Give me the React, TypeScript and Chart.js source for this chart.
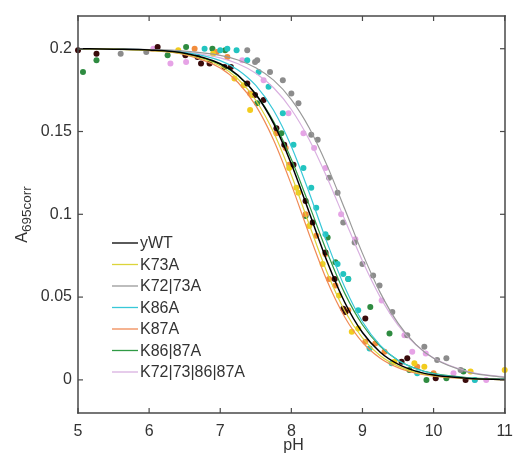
import React, { useEffect, useRef } from "react";
import { Chart, registerables } from "chart.js";

Chart.register(...registerables);

const FONT = "'Liberation Sans', Arial, Helvetica, sans-serif";
const TEXT_COLOR = "#333333";
const AXIS_COLOR = "#4a4a4a";

const SERIES_NAMES = ["yWT", "K73A", "K72|73A", "K86A", "K87A", "K86|87A", "K72|73|86|87A"];
const LINE_COLORS = ["#000000", "#dcd43a", "#9a9a9a", "#38c8d8", "#f08a55", "#2f9a45", "#d9b0e0"];
const POINT_COLORS = ["#3a0b0b", "#f2cc1d", "#8c8c8c", "#22c4c0", "#f28c3c", "#2e8b40", "#e6a3e6"];

const X_TICKS = [5, 6, 7, 8, 9, 10, 11];
const Y_TICKS = [0, 0.05, 0.1, 0.15, 0.2];
const X_LABEL = "pH";
const Y_LABEL_MAIN = "A";
const Y_LABEL_SUB = "695corr";

// fitted curves, sampled at these pH values
const CURVE_PH = [5, 5.5, 6, 6.5, 7, 7.25, 7.5, 7.75, 8, 8.25, 8.5, 8.75, 9, 9.25, 9.5, 9.75, 10, 10.5, 11];
const FIT_YWT = [0.2, 0.1997, 0.1992, 0.1972, 0.1909, 0.184, 0.1725, 0.1549, 0.1304, 0.1012, 0.0718, 0.0469, 0.0286, 0.0167, 0.0095, 0.0053, 0.0029, 0.0009, 0.0003];
const FIT_K73A = [0.2, 0.1997, 0.199, 0.1968, 0.1896, 0.1817, 0.1689, 0.1496, 0.1237, 0.094, 0.0652, 0.0418, 0.0253, 0.0146, 0.0083, 0.0046, 0.0025, 0.0008, 0.0002];
const FIT_K72_73A = [0.2, 0.1998, 0.1995, 0.1986, 0.196, 0.1932, 0.1885, 0.181, 0.1693, 0.1523, 0.1297, 0.1033, 0.0764, 0.0527, 0.0343, 0.0214, 0.013, 0.0045, 0.0015];
const FIT_K86A = [0.2, 0.1998, 0.1993, 0.1978, 0.1928, 0.1872, 0.1778, 0.1628, 0.141, 0.1132, 0.0832, 0.0561, 0.0351, 0.0208, 0.0119, 0.0067, 0.0037, 0.0011, 0.0003];
const FIT_K87A = [0.2, 0.1997, 0.1989, 0.1964, 0.1883, 0.1796, 0.1656, 0.1449, 0.1179, 0.088, 0.06, 0.038, 0.0227, 0.0131, 0.0074, 0.0041, 0.0023, 0.0007, 0.0002];
const FIT_K86_87A = [0.1999, 0.1997, 0.199, 0.1969, 0.1905, 0.1836, 0.1726, 0.156, 0.1332, 0.1057, 0.0774, 0.0524, 0.0333, 0.0202, 0.0119, 0.0069, 0.0039, 0.0013, 0.0004];
const FIT_K72_73_86_87A = [0.1999, 0.1997, 0.1993, 0.198, 0.1945, 0.1909, 0.1852, 0.1764, 0.1633, 0.1452, 0.1224, 0.0969, 0.0718, 0.05, 0.0331, 0.0212, 0.0132, 0.0049, 0.0018];

// measured points [pH, A695corr]
const PTS_YWT: [number, number][] = [
  [5.0, 0.199], [5.26, 0.197], [6.12, 0.201], [6.51, 0.196], [6.68, 0.195], [6.73, 0.191], [6.85, 0.191],
  [7.06, 0.189], [7.15, 0.189], [7.38, 0.179], [7.49, 0.172], [7.61, 0.169], [7.79, 0.152], [7.9, 0.142],
  [8.03, 0.13], [8.2, 0.108], [8.3, 0.095], [8.48, 0.077], [8.61, 0.061], [8.73, 0.043], [8.76, 0.041],
  [9.04, 0.037], [9.55, 0.011], [9.63, 0.013], [10.03, 0.001], [10.45, 0.0],
];
const PTS_K73A: [number, number][] = [
  [6.41, 0.199], [6.9, 0.197], [7.2, 0.182], [7.33, 0.178], [7.42, 0.163], [7.45, 0.172], [7.97, 0.128],
  [8.07, 0.116], [8.1, 0.113], [8.25, 0.093], [8.44, 0.07], [8.67, 0.051], [8.85, 0.029], [8.94, 0.031],
  [9.45, 0.011], [9.73, 0.01], [9.87, 0.008], [10.52, 0.005], [11.0, 0.006],
];
const PTS_K72_73A: [number, number][] = [
  [5.6, 0.197], [5.96, 0.198], [7.38, 0.199], [7.49, 0.192], [7.52, 0.193], [7.7, 0.186], [7.88, 0.181],
  [8.0, 0.173], [8.1, 0.167], [8.28, 0.148], [8.37, 0.145], [8.53, 0.122], [8.65, 0.113], [8.73, 0.095],
  [8.89, 0.083], [9.0, 0.07], [9.15, 0.063], [9.24, 0.057], [9.42, 0.041], [9.63, 0.027], [9.87, 0.02],
  [10.05, 0.012], [10.18, 0.013], [10.38, 0.006],
];
const PTS_K86A: [number, number][] = [
  [6.78, 0.2], [7.0, 0.199], [7.1, 0.2], [7.23, 0.199], [7.38, 0.193], [7.54, 0.186], [7.68, 0.177],
  [7.88, 0.161], [8.03, 0.142], [8.17, 0.128], [8.28, 0.116], [8.35, 0.104], [8.48, 0.088], [8.65, 0.07],
  [8.73, 0.064], [8.8, 0.061], [8.94, 0.042], [9.1, 0.019], [9.41, 0.01], [9.77, 0.004], [10.58, 0.0],
];
const PTS_K87A: [number, number][] = [
  [6.64, 0.2], [6.95, 0.198], [7.1, 0.195], [7.42, 0.173], [7.79, 0.149], [7.92, 0.14], [7.97, 0.13],
  [8.2, 0.1], [8.35, 0.087], [8.48, 0.076], [8.53, 0.061], [8.62, 0.057], [8.8, 0.042], [9.04, 0.023],
  [9.18, 0.022], [9.31, 0.017], [9.77, 0.008], [10.0, 0.004],
];
const PTS_K86_87A: [number, number][] = [
  [5.07, 0.186], [5.26, 0.193], [6.26, 0.196], [6.52, 0.201], [6.89, 0.2], [7.07, 0.199], [7.52, 0.167],
  [7.86, 0.149], [8.2, 0.099], [8.51, 0.086], [8.62, 0.071], [8.8, 0.061], [9.11, 0.044], [9.38, 0.028],
  [9.66, 0.006], [9.9, 0.0], [10.18, 0.001], [10.42, 0.005],
];
const PTS_K72_73_86_87A: [number, number][] = [
  [6.06, 0.2], [6.3, 0.191], [6.52, 0.192], [7.31, 0.193], [7.61, 0.181], [7.96, 0.161], [8.17, 0.149],
  [8.32, 0.14], [8.48, 0.128], [8.7, 0.1], [8.9, 0.085], [9.27, 0.048], [9.59, 0.027], [9.7, 0.017],
  [9.89, 0.016], [10.28, 0.004], [10.58, 0.0], [10.74, 0.0],
];

const FITS = [FIT_YWT, FIT_K73A, FIT_K72_73A, FIT_K86A, FIT_K87A, FIT_K86_87A, FIT_K72_73_86_87A];
const POINTS = [PTS_YWT, PTS_K73A, PTS_K72_73A, PTS_K86A, PTS_K87A, PTS_K86_87A, PTS_K72_73_86_87A];

const fmtTick = (v: number) => String(Number(v.toFixed(3)));

const framePlugin = {
  id: "matlabFrame",
  afterDraw(chart: any) {
    const ctx: CanvasRenderingContext2D = chart.ctx;
    const area = chart.chartArea;
    const left = Math.round(area.left);
    const right = Math.round(area.right);
    const top = Math.round(area.top);
    const bottom = Math.round(area.bottom);
    const xs = chart.scales.x;
    const ys = chart.scales.y;
    const tl = 5;
    const lw = 1.5;
    ctx.save();
    ctx.globalAlpha = 1;
    ctx.globalCompositeOperation = "source-over";
    ctx.setLineDash([]);
    ctx.fillStyle = AXIS_COLOR;
    // box
    ctx.fillRect(left - lw / 2, top - lw / 2, right - left + lw, lw);
    ctx.fillRect(left - lw / 2, bottom - lw / 2, right - left + lw, lw);
    ctx.fillRect(left - lw / 2, top - lw / 2, lw, bottom - top + lw);
    ctx.fillRect(right - lw / 2, top - lw / 2, lw, bottom - top + lw);
    // inward ticks
    X_TICKS.forEach((v) => {
      const px = xs.getPixelForValue(v);
      ctx.fillRect(px - 0.6, bottom - tl, 1.2, tl);
      ctx.fillRect(px - 0.6, top, 1.2, tl);
    });
    Y_TICKS.forEach((v) => {
      const py = ys.getPixelForValue(v);
      ctx.fillRect(left, py - 0.6, tl, 1.2);
      ctx.fillRect(right - tl, py - 0.6, tl, 1.2);
    });

    // legend (inside, lower-left, no box)
    ctx.font = `16px ${FONT}`;
    ctx.textBaseline = "middle";
    ctx.textAlign = "left";
    const n = SERIES_NAMES.length;
    const rowH = 21.5;
    const y0 = bottom - 170;
    for (let i = 0; i < n; i++) {
      const ds = chart.data.datasets[i];
      const y = y0 + i * rowH;
      ctx.strokeStyle = ds.borderColor;
      ctx.lineWidth = 1.3;
      ctx.beginPath();
      ctx.moveTo(left + 34, y);
      ctx.lineTo(left + 60, y);
      ctx.stroke();
      ctx.fillStyle = TEXT_COLOR;
      ctx.fillText(ds.label, left + 62, y + 1);
    }

    // x title
    ctx.textAlign = "center";
    ctx.textBaseline = "alphabetic";
    ctx.font = `16px ${FONT}`;
    ctx.fillStyle = TEXT_COLOR;
    ctx.fillText(X_LABEL, (left + right) / 2 + 2, 450);

    // y title with subscript
    ctx.translate(27, (top + bottom) / 2);
    ctx.rotate(-Math.PI / 2);
    ctx.textAlign = "left";
    ctx.font = `16px ${FONT}`;
    const wA = ctx.measureText(Y_LABEL_MAIN).width;
    ctx.font = `13.5px ${FONT}`;
    const wS = ctx.measureText(Y_LABEL_SUB).width;
    const x0 = -(wA + wS) / 2;
    ctx.font = `16px ${FONT}`;
    ctx.fillText(Y_LABEL_MAIN, x0, 0);
    ctx.font = `13.5px ${FONT}`;
    ctx.fillText(Y_LABEL_SUB, x0 + wA, 4);
    ctx.restore();
  },
};

export default function App() {
  const canvasRef = useRef<HTMLCanvasElement | null>(null);

  useEffect(() => {
    if (!canvasRef.current) return;
    const lineSets = SERIES_NAMES.map((name, i) => ({
      type: "scatter" as const,
      label: name,
      data: CURVE_PH.map((x, k) => ({ x, y: FITS[i][k] })),
      showLine: true,
      borderColor: LINE_COLORS[i],
      backgroundColor: LINE_COLORS[i],
      borderWidth: i === 0 ? 1.5 : 1.2,
      pointRadius: 0,
      cubicInterpolationMode: "monotone" as const,
    }));
    const pointSets = SERIES_NAMES.map((name, i) => ({
      type: "scatter" as const,
      label: name + " data",
      data: POINTS[i].map(([x, y]) => ({ x, y })),
      showLine: false,
      pointRadius: 3,
      pointBorderWidth: 0,
      backgroundColor: POINT_COLORS[i],
      borderColor: POINT_COLORS[i],
      clip: false as any,
    }));

    const chart = new Chart(canvasRef.current, {
      type: "scatter",
      data: { datasets: [...lineSets, ...pointSets] as any },
      plugins: [framePlugin],
      options: {
        animation: false,
        responsive: true,
        maintainAspectRatio: false,
        events: [],
        layout: { padding: { top: 13, right: 10, left: 0, bottom: 0 } },
        plugins: { legend: { display: false }, tooltip: { enabled: false }, title: { display: false } },
        scales: {
          x: {
            type: "linear",
            min: 5,
            max: 11,
            grid: { display: false, drawTicks: false },
            border: { display: false },
            afterBuildTicks: (s: any) => {
              s.ticks = X_TICKS.map((v) => ({ value: v }));
            },
            afterFit: (s: any) => {
              s.height = 49;
            },
            ticks: {
              padding: 9,
              color: TEXT_COLOR,
              font: { family: FONT, size: 16 },
              callback: (v: any) => fmtTick(Number(v)),
              maxRotation: 0,
            },
          },
          y: {
            type: "linear",
            min: -0.02,
            max: 0.22,
            grid: { display: false, drawTicks: false },
            border: { display: false },
            afterBuildTicks: (s: any) => {
              s.ticks = Y_TICKS.map((v) => ({ value: v }));
            },
            afterFit: (s: any) => {
              s.width = 78;
            },
            ticks: {
              padding: 6,
              color: TEXT_COLOR,
              font: { family: FONT, size: 16 },
              callback: (v: any) => fmtTick(Number(v)),
            },
          },
        },
      },
    });
    return () => chart.destroy();
  }, []);

  return (
    <div style={{ position: "fixed", left: 0, top: 0, width: 522, height: 462, background: "#ffffff" }}>
      <canvas ref={canvasRef} />
    </div>
  );
}
